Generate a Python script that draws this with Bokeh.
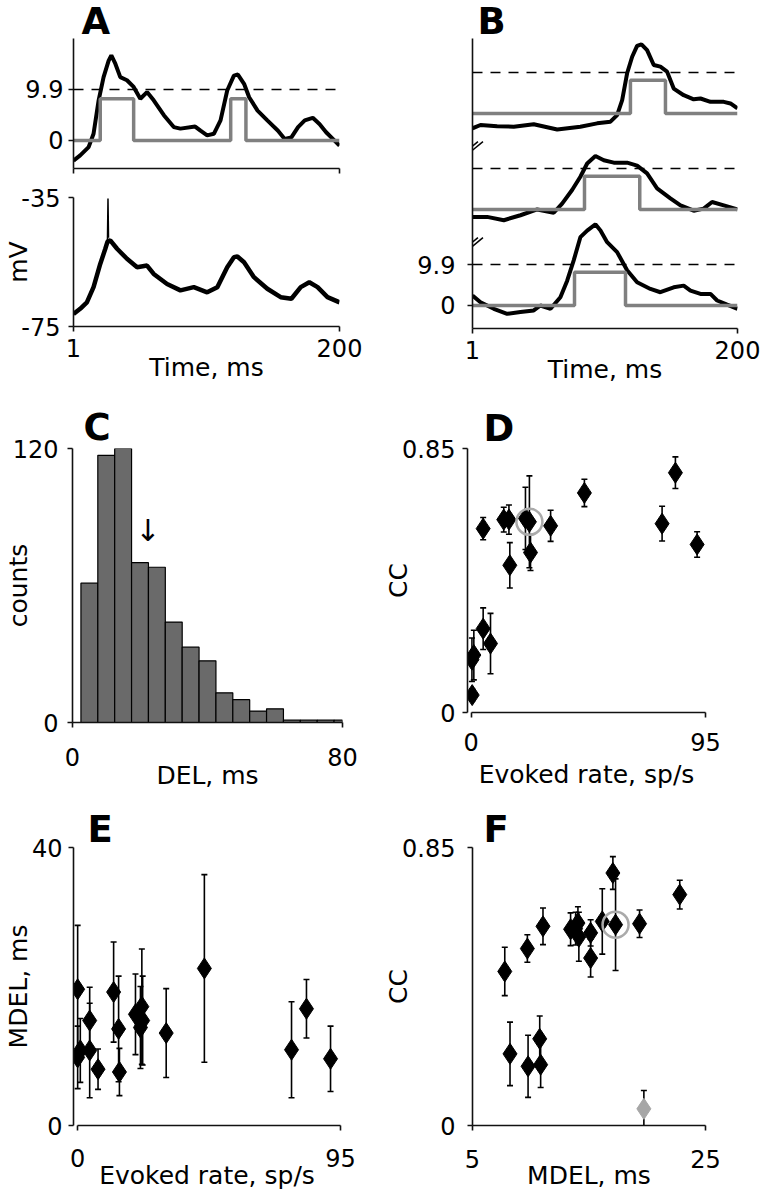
from bokeh.plotting import figure
from bokeh.layouts import column, row
from bokeh.models import Range1d, FixedTicker, CustomJSTickFormatter, Span
from bokeh.core.properties import value
from bokeh.embed import file_html
from bokeh.resources import INLINE

FONT = "DejaVu Sans"
TICK_FS = "24px"
LABEL_FS = "25px"
LETTER_FS = "37px"

# ---------------- data ----------------
THRESH = 9.9

# Panel A, top: smoothed response (black) and detected events (gray step)
a_t = [1, 6, 12.3, 16, 19.8, 23.5, 27.3, 29.3, 32.3, 36, 41, 46, 51, 56, 61, 68.6, 76, 81, 92, 96,
       101, 106, 111, 116, 121, 124, 128.6, 132.4, 138.7, 146, 154, 159, 164, 169, 174, 180, 185,
       190, 195, 200]
a_v = [-3.9, -2.9, -1.3, 1.3, 7.8, 12.3, 15.5, 16.5, 14.9, 12.3, 11.7, 10.4, 8.1, 9.4, 7.8, 4.9, 2.6,
       2.3, 2.7, 1.9, 1.0, 1.3, 3.9, 9.7, 12.6, 12.8, 11.0, 8.4, 5.8, 3.9, 1.9, 0.3, 0.6, 2.6, 3.9,
       4.4, 3.2, 1.6, 0.3, -1.0]
a_step_t = [1, 21, 46, 118.6, 130, 200]
a_step_v = [0, 8.1, 0, 8.1, 0, 0]

# Panel A, bottom: membrane potential (mV)
vm_t = [1, 6, 11, 16, 21, 24.8, 26.5, 28.5, 33.6, 41, 48.6, 56, 61, 71, 81, 91, 101, 108.6, 116,
        121, 123.6, 128.6, 136, 146, 156, 164, 171, 177.4, 183.6, 191, 200]
vm_v = [-71.1, -69.5, -67.5, -62.8, -55.6, -50.9, -48.6, -48.3, -50.9, -54.0, -56.6, -56.1, -58.7,
        -61.8, -63.8, -62.8, -64.4, -62.8, -56.6, -53.5, -53.3, -55.1, -59.7, -63.3, -65.9, -66.4,
        -62.8, -61.3, -62.8, -65.9, -67.5]
spike_t = [26.4, 26.8, 27.2]
spike_v = [-48.5, -35.3, -47.5]

# Panel B: three example responses (bottom, middle, top)
b0_t = [1, 7, 17, 27, 37, 47, 52, 59.6, 67, 72.1, 77, 82, 87.1, 93.3, 97.1, 102.1, 109.6, 117.1,
        124.6, 134.6, 142.1, 152.1, 159.6, 164.7, 172.2, 179.7, 184.7, 192.2, 200]
b0_v = [2.4, 0.8, -0.8, -2.0, -1.6, -1.2, 0, -0.8, 2.0, 6.0, 10.9, 16.5, 18.1, 19.6, 18.1, 15.3,
        12.9, 8.5, 5.6, 4.0, 3.2, 4.4, 4.8, 3.6, 2.8, 2.8, 1.2, 0.2, -0.8]
b0_step_t = [1, 77.6, 115.9, 200]
b0_step_v = [0, 8.0, 0, 0]

b1_t = [1, 12, 24.5, 37, 49.6, 62, 68.3, 75.8, 82, 87.1, 93.3, 99.6, 107.1, 117.1, 124.6, 132.1,
        139.6, 149.6, 157.2, 167.1, 174.6, 180.9, 189.7, 200]
b1_v = [-1.8, -1.8, -2.6, -1.4, 0, -0.8, 1.4, 4.7, 7.9, 11.1, 12.9, 11.9, 11.3, 11.3, 10.6, 8.7,
        5.1, 2.7, 1.0, -0.3, 0.2, 1.8, 1.0, 0]
b1_step_t = [1, 85.1, 126.6, 200]
b1_step_v = [0, 8.0, 0, 0]

b2_t = [1, 7, 19.5, 32, 47, 64.6, 82, 94.6, 104.6, 109.6, 113.4, 117.1, 120.9, 124.6, 127.9, 132.1,
        137.1, 142.1, 147.1, 152.1, 159.6, 167.1, 172.2, 179.7, 189.7, 194.7, 200]
b2_v = [-3.6, -2.8, -3.1, -3.2, -2.6, -3.9, -3.2, -2.4, -2.0, -0.4, 3.2, 9.7, 13.7, 16.3, 16.7,
        15.3, 11.7, 11.3, 10.1, 6.0, 4.4, 3.4, 3.6, 2.8, 2.8, 2.4, 1.2]
b2_step_t = [1, 119.6, 145.9, 200]
b2_step_v = [0, 8.0, 0, 0]

# Panel C: DEL histogram
c_centers = [5, 10, 15, 20, 25, 30, 35, 40, 45, 50, 55, 60, 65, 70, 75, 80]
c_counts = [61, 117, 120, 70, 68, 44, 33, 27, 13, 10, 5, 6, 1, 1, 1, 1]
c_mean_x = 22.3
c_mean_y = 84

# Panel D: CC vs evoked rate
d_x = [0.4, 0.3, 1.07, 4.85, 7.83, 4.85, 13.2, 15.3, 15.66, 22.0, 23.6, 24.05, 32.2, 45.9, 77.4, 82.8, 91.6]
d_y = [0.056, 0.17, 0.185, 0.270, 0.222, 0.592, 0.621, 0.621, 0.474, 0.625, 0.614, 0.515, 0.601,
       0.707, 0.608, 0.772, 0.541]
d_err = [0.02, 0.07, 0.08, 0.067, 0.097, 0.036, 0.04, 0.047, 0.073, 0.10, 0.148, 0.058, 0.05, 0.044,
         0.056, 0.051, 0.041]
d_circ_x = [23.6]
d_circ_y = [0.614]

# Panel E: MDEL vs evoked rate
e_x = [0, 0, 0.96, 4.35, 4.35, 7.37, 13.0, 14.8, 15.1, 20.9, 22.7, 23.2, 23.5, 32.0, 45.8, 77.3, 82.7, 91.4]
e_y = [19.6, 9.8, 10.8, 15.1, 10.8, 8.1, 19.2, 13.9, 7.7, 16.0, 14.1, 17.1, 15.1, 13.3, 22.6, 10.9, 16.8, 9.6]
e_err = [9.2, 4.5, 4.6, 4.8, 6.8, 2.9, 7.2, 7.6, 3.4, 5.8, 5.9, 8.3, 6.4, 6.4, 13.5, 6.9, 4.2, 4.7]

# Panel F: CC vs MDEL
f_x = [7.77, 8.22, 9.71, 9.77, 10.77, 10.85, 11.05, 13.42, 13.85, 14.05, 14.13, 15.14, 15.14, 16.14,
       17.05, 17.28, 19.34, 22.79]
f_y = [0.471, 0.219, 0.541, 0.181, 0.265, 0.186, 0.609, 0.600, 0.602, 0.619, 0.577, 0.589, 0.512,
       0.624, 0.772, 0.614, 0.617, 0.706]
f_err = [0.074, 0.097, 0.042, 0.095, 0.07, 0.07, 0.056, 0.05, 0.05, 0.05, 0.075, 0.04, 0.058, 0.1,
         0.05, 0.14, 0.042, 0.044]
f_gray_x = [19.71]
f_gray_y = [0.051]
f_gray_err = [0.056]
f_circ_x = [17.28]
f_circ_y = [0.614]

# ---------------- helpers ----------------
def base_fig(w, h, xr, yr, bl, br, bt, bb, letter=None, l_off=0, l_standoff=0):
    p = figure(width=w, height=h, x_range=Range1d(*xr), y_range=Range1d(*yr),
               output_backend="svg", toolbar_location=None,
               min_border_left=bl, min_border_right=br, min_border_top=bt, min_border_bottom=bb)
    if letter is not None:
        p.title.text = letter
        p.title.align = "left"
        p.title.vertical_align = "top"
        p.title.offset = l_off
        p.title.standoff = l_standoff
        p.title.text_font = FONT
        p.title.text_font_size = LETTER_FS
        p.title.text_font_style = "bold"
        p.title.text_color = "black"
    p.xgrid.visible = False
    p.ygrid.visible = False
    p.outline_line_color = None
    p.background_fill_color = "white"
    p.border_fill_color = "white"
    for ax in (p.xaxis[0], p.yaxis[0]):
        ax.axis_line_width = 1.6
        ax.axis_line_color = "#111111"
        ax.major_tick_line_width = 1.6
        ax.major_tick_line_color = "#111111"
        ax.major_tick_in = 0
        ax.major_tick_out = 5
        ax.minor_tick_line_color = None
        ax.major_label_text_font = FONT
        ax.major_label_text_font_size = TICK_FS
        ax.major_label_text_color = "black"
        ax.major_label_text_line_height = 1.0
        ax.axis_label_text_font = FONT
        ax.axis_label_text_font_size = LABEL_FS
        ax.axis_label_text_font_style = "normal"
        ax.axis_label_text_color = "black"
        ax.axis_label_text_line_height = 1.0
    return p


def set_axis(ax, ticks, standoff, label=None, label_standoff=0, show=True):
    ax.ticker = FixedTicker(ticks=ticks)
    if show:
        ax.formatter = CustomJSTickFormatter(code="return String(tick);")
    else:
        ax.formatter = CustomJSTickFormatter(code="return '';")
        ax.major_label_text_font_size = "1px"
    ax.major_label_standoff = standoff
    if label is not None:
        ax.axis_label = label
        ax.axis_label_standoff = label_standoff


def thresh_span(p, loc):
    p.add_layout(Span(location=loc, dimension="width", line_color="black",
                      line_width=1.5, line_dash="10 8"))


def errorbars(p, xs, ys, errs, color="black", fill="black"):
    lo = [y - e for y, e in zip(ys, errs)]
    hi = [y + e for y, e in zip(ys, errs)]
    p.segment(x0=xs, y0=lo, x1=xs, y1=hi, line_width=1.6, line_color="black")
    p.scatter(xs, lo, marker="dash", size=6, line_width=1.6, line_color="black")
    p.scatter(xs, hi, marker="dash", size=6, line_width=1.6, line_color="black")
    p.scatter(xs, ys, marker="diamond", size=21, fill_color=fill, line_color=color, line_width=1)


BLACK_W = 4
GRAY = "#808080"
GRAY_W = 3.5

# ---------------- Panel A ----------------
a_top = base_fig(380, 182, (1, 200), (-5.44, 19.8), 73, 41, 38, 14, "A", 8, -13)
a_top.line(a_t, a_v, line_width=BLACK_W, line_color="black")
a_top.step(a_step_t, a_step_v, mode="after", line_width=GRAY_W, line_color=GRAY)
thresh_span(a_top, THRESH)
set_axis(a_top.yaxis[0], [0, THRESH], 5)
set_axis(a_top.xaxis[0], [1, 200], 0, show=False)

a_bot = base_fig(380, 218, (1, 200), (-75, -35), 73, 41, 15, 74)
a_bot.line(vm_t, vm_v, line_width=4.5, line_color="black")
a_bot.line(spike_t, spike_v, line_width=1.5, line_color="black")
set_axis(a_bot.yaxis[0], [-75, -35], 8, "mV", -15)
set_axis(a_bot.xaxis[0], [1, 200], 7, "Time, ms", -7)

# ---------------- Panel B ----------------
B_OFFSETS = [0, 23.2, 46.4]
b = base_fig(381, 400, (1, 200), (-5.56, 64.5), 92, 24, 38, 72, "B", 5, -13)
traces = [(b0_t, b0_v, b0_step_t, b0_step_v), (b1_t, b1_v, b1_step_t, b1_step_v),
          (b2_t, b2_v, b2_step_t, b2_step_v)]
for off, (tt, vv, st, sv) in zip(B_OFFSETS, traces):
    b.line(tt, [v + off for v in vv], line_width=BLACK_W, line_color="black")
    b.step(st, [v + off for v in sv], mode="after", line_width=GRAY_W, line_color=GRAY)
    thresh_span(b, THRESH + off)
set_axis(b.yaxis[0], [0, THRESH], 12)
set_axis(b.xaxis[0], [1, 200], 7, "Time, ms", -7)

# axis-break marks between the stacked traces
BREAK_Y = [14.7, 37.9]
MS_PER_PX = 199.0 / 265.0
U_PER_PX = 1 / 4.14
bx0, bx1, by0, by1 = [], [], [], []
for cy in BREAK_Y:
    for k in (-1, 1):
        dx = k * 2.5 * MS_PER_PX
        bx0.append(0.6 - 8.5 * MS_PER_PX + dx)
        bx1.append(0.6 + 8.5 * MS_PER_PX + dx)
        by0.append(cy - 7 * U_PER_PX)
        by1.append(cy + 7 * U_PER_PX)
b.segment(x0=bx0, y0=by0, x1=bx1, y1=by1, line_width=1.5, line_color="black")

# ---------------- Panel C ----------------
c = base_fig(380, 400, (0, 80), (0, 120), 72, 38, 48, 78, "C", 11, -4)
c.vbar(x=c_centers, top=c_counts, width=5, fill_color="#6a6a6a", line_color="black", line_width=1.2)
c.text(x=[c_mean_x], y=[c_mean_y], text=["\u2193"], text_font=value(FONT), text_font_size="30px",
       text_align="center", text_baseline="middle", text_color="black")
set_axis(c.yaxis[0], [0, 120], 9, "counts", -23)
set_axis(c.xaxis[0], [0, 80], 20, "DEL, ms", -8)

# ---------------- Panel D ----------------
d = base_fig(381, 400, (-1.5, 95), (0, 0.85), 87, 56, 48, 88, "D", 16, -7)
d.xaxis[0].bounds = (0, 95)
errorbars(d, d_x, d_y, d_err)
d.scatter(d_circ_x, d_circ_y, marker="circle", size=26, fill_color=None, line_color="#aaaaaa", line_width=2.5)
set_axis(d.yaxis[0], [0, 0.85], 7, "CC", -14)
set_axis(d.xaxis[0], [0, 95], 15, "Evoked rate, sp/s", 6)

# ---------------- Panel E ----------------
e = base_fig(380, 399, (-1.5, 95), (0, 40), 73, 40, 47, 74, "E", 14, -10)
e.xaxis[0].bounds = (0, 95)
errorbars(e, e_x, e_y, e_err)
set_axis(e.yaxis[0], [0, 40], 6, "MDEL, ms", -4)
set_axis(e.xaxis[0], [0, 95], 18, "Evoked rate, sp/s", -9)

# ---------------- Panel F ----------------
f = base_fig(381, 399, (5, 25), (0, 0.85), 92, 56, 47, 74, "F", 11, -10)
errorbars(f, f_gray_x, f_gray_y, f_gray_err, color="#a6a6a6", fill="#a6a6a6")
errorbars(f, f_x, f_y, f_err)
f.scatter(f_circ_x, f_circ_y, marker="circle", size=26, fill_color=None, line_color="#aaaaaa", line_width=2.5)
set_axis(f.yaxis[0], [0, 0.85], 12, "CC", -14)
set_axis(f.xaxis[0], [5, 25], 19, "MDEL, ms", -10)

layout = column(row(column(a_top, a_bot), column(b)),
                row(column(c), column(d)),
                row(column(e), column(f)))

open("out.html", "w").write(file_html(layout, INLINE))
